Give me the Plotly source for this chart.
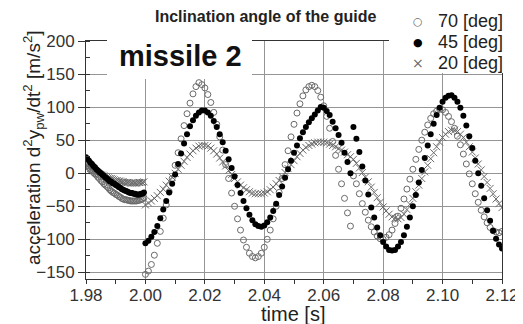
import numpy as np
import plotly.graph_objects as go

# time grids (s)
t_pre = np.round(1.98 + 0.0005 * np.arange(40), 4)      # 1.9800 ... 1.9995
t_post = np.round(2.0 + 0.001 * np.arange(121), 3)      # 2.000 ... 2.120

# 70 [deg] - open circles
a70_pre = [14, 11, 9, 6, 4, 1, -1, -3, -6, -8,
           -11, -13, -16, -18, -20, -22, -25, -27, -29, -30,
           -32, -33, -35, -36, -38, -39, -40, -40, -41, -41,
           -42, -42, -42, -42, -42, -41, -41, -40, -39, -37]
a70_post = [-153, -148, -138, -124, -106, -88, -68, -48, -28, -8,
            12, 31, 52, 72, 90, 106, 120, 131, 137, 134,
            129, 119, 107, 92, 74, 55, 35, 13, -8, -30,
            -50, -69, -86, -101, -112, -121, -126, -128, -126, -121,
            -112, -100, -86, -69, -50, -29, -8, 13, 34, 55,
            74, 91, 105, 117, 126, 131, 133, 131, 125, 115,
            102, 86, 68, 48, 27, 6, -16, -38, -60, -80,
            -4, -16, -31, -46, -59, -71, -81, -89, -95, -99,
            -100, -97, -93, -86, -76, -65, -53, -39, -24, -9,
            6, 21, 36, 50, 62, 73, 83, 90, 94, 97,
            96, 92, 86, 78, 68, 56, 43, 29, 14, -1,
            -16, -31, -44, -56, -66, -75, -82, -87, -89, -90,
            -88]

# 45 [deg] - filled dots
a45_pre = [24, 21, 19, 16, 14, 11, 9, 6, 4, 2,
           0, -2, -4, -6, -8, -10, -12, -13, -15, -16,
           -18, -19, -21, -22, -24, -25, -26, -27, -28, -29,
           -30, -30, -31, -31, -32, -32, -32, -31, -31, -29]
a45_post = [-106, -102, -96, -89, -80, -68, -55, -42, -29, -16,
            -2, 14, 30, 45, 59, 71, 80, 87, 92, 95,
            95, 92, 87, 79, 70, 59, 47, 34, 21, 8,
            -5, -18, -30, -42, -53, -63, -71, -77, -80, -81,
            -79, -74, -67, -57, -46, -33, -20, -7, 6, 19,
            31, 42, 53, 62, 70, 77, 83, 89, 95, 100,
            99, 94, 88, 78, 68, 58, 46, 31, 17, 0,
            70, 52, 32, 10, -11, -32, -52, -67, -82, -94,
            -104, -111, -116, -117, -116, -111, -104, -94, -81, -67,
            -50, -33, -14, 5, 23, 42, 59, 75, 88, 99,
            108, 114, 117, 118, 114, 108, 99, 87, 72, 56,
            38, 19, 0, -19, -38, -56, -72, -87, -99, -108,
            -114]

# 20 [deg] - crosses
a20_pre = [12, 10, 9, 7, 6, 4, 3, 1, 0, -1,
           -2, -3, -4, -5, -6, -7, -8, -8, -9, -10,
           -11, -11, -12, -12, -13, -13, -14, -14, -14, -14,
           -15, -15, -15, -15, -15, -14, -14, -14, -14, -13]
a20_post = [-48, -45, -42, -38, -34, -29, -24, -18, -12, -6,
            0, 6, 12, 18, 24, 29, 34, 38, 41, 42,
            42, 41, 38, 34, 29, 23, 17, 11, 4, -2,
            -8, -13, -18, -22, -25, -28, -30, -31, -31, -31,
            -30, -28, -25, -21, -16, -11, -5, 1, 7, 13,
            19, 25, 30, 35, 39, 42, 44, 46, 47, 47,
            47, 46, 44, 42, 40, 37, 35, 32, 28, 25,
            21, 15, 8, 1, -6, -13, -21, -29, -37, -44,
            -51, -57, -62, -66, -68, -69, -67, -62, -55, -47,
            -38, -28, -18, -8, 2, 12, 22, 31, 40, 47,
            54, 59, 63, 65, 65, 63, 59, 54, 47, 40,
            32, 23, 14, 5, -5, -14, -23, -31, -39, -46,
            -52]

labels = ["70 [deg]", "45 [deg]", "20 [deg]"]
legend_symbols = ["○", "●", "×"]
legend_colors = ["#6a6a6a", "#000000", "#6a6a6a"]
x_ticks = [1.98, 2.00, 2.02, 2.04, 2.06, 2.08, 2.10, 2.12]
x_ticktext = ["1.98", "2.00", "2.02", "2.04", "2.06", "2.08", "2.10", "2.12"]
y_ticks = [-150, -100, -50, 0, 50, 100, 150, 200]

t_all = list(t_pre) + list(t_post)
FONT = "Liberation Sans, Arial, sans-serif"

fig = go.Figure()
fig.add_trace(go.Scatter(x=t_all, y=a70_pre + a70_post, mode="markers", name=labels[0],
                         marker=dict(symbol="circle-open", size=6, color="#6a6a6a",
                                     line=dict(width=1, color="#6a6a6a"))))
fig.add_trace(go.Scatter(x=t_all, y=a20_pre + a20_post, mode="markers", name=labels[2],
                         marker=dict(symbol="x-thin-open", size=7, color="#6a6a6a",
                                     line=dict(width=1, color="#6a6a6a"))))
fig.add_trace(go.Scatter(x=t_all, y=a45_pre + a45_post, mode="markers", name=labels[1],
                         marker=dict(symbol="circle", size=6, color="#000000")))

# page is offset by the 8px body margin
W, H = 515, 316
L, R, T, B = 78, 21, 33, 45
PL, PT, PW, PH = 86, 41, 416, 238   # plot area in page pixels

def px(xp):
    return (xp - PL) / PW

def py(yp):
    return (PT + PH - yp) / PH

annotations = [
    dict(text="<b>Inclination angle of the guide</b>", xref="paper", yref="paper",
         x=px(265), y=py(17), xanchor="center", yanchor="middle", showarrow=False,
         font=dict(size=16, color="#222")),
    dict(text="<b>missile 2</b>", xref="paper", yref="paper",
         x=px(180), y=py(56), xanchor="center", yanchor="middle", showarrow=False,
         font=dict(size=29, color="#111")),
    dict(text="time [s]", xref="paper", yref="paper",
         x=px(293), y=py(314), xanchor="center", yanchor="middle", showarrow=False,
         font=dict(size=20, color="#222")),
    dict(text="acceleration d<sup>2</sup>y<sub>pw</sub>/dt<sup>2</sup> [m/s<sup>2</sup>]",
         xref="paper", yref="paper", textangle=-90,
         x=px(33), y=py(148), xanchor="center", yanchor="middle", showarrow=False,
         font=dict(size=19, color="#222")),
]
row_y = [21, 42, 63]
sym_size = [11, 11, 14]
for i in range(3):
    annotations.append(dict(text=legend_symbols[i], xref="paper", yref="paper",
                            x=px(418), y=py(row_y[i]), xanchor="center", yanchor="middle",
                            showarrow=False,
                            font=dict(family="DejaVu Sans", size=sym_size[i], color=legend_colors[i])))
    annotations.append(dict(text=labels[i], xref="paper", yref="paper",
                            x=px(436), y=py(row_y[i]), xanchor="left", yanchor="middle",
                            showarrow=False, font=dict(size=18, color="#222")))

fig.update_layout(
    width=W, height=H,
    margin=dict(l=L, r=R, t=T, b=B, autoexpand=False),
    paper_bgcolor="white", plot_bgcolor="white",
    font=dict(family=FONT, color="#222"),
    showlegend=False,
    xaxis=dict(range=[1.98, 2.12], tickvals=x_ticks, ticktext=x_ticktext,
               showgrid=True, gridcolor="#959595", gridwidth=1,
               showline=True, linecolor="#333", linewidth=1, mirror=True,
               ticks="outside", ticklen=4, tickcolor="#333", automargin=False,
               ticklabelstandoff=-3,
               minor=dict(dtick=0.01, ticks="outside", ticklen=4, tickcolor="#333", showgrid=False),
               tickfont=dict(size=17, color="#333"), zeroline=False),
    yaxis=dict(range=[-160, 200], tickvals=y_ticks,
               showgrid=True, gridcolor="#959595", gridwidth=1,
               showline=True, linecolor="#333", linewidth=1, mirror=True,
               ticks="outside", ticklen=7, tickcolor="#333", automargin=False,
               minor=dict(dtick=25, ticks="inside", ticklen=4, tickcolor="#333", showgrid=False),
               tickfont=dict(size=17, color="#333"), zeroline=False),
    shapes=[
        dict(type="rect", xref="paper", yref="paper", x0=px(107), x1=px(252),
             y0=py(79), y1=py(34), fillcolor="white", line=dict(width=0), layer="above"),
        dict(type="rect", xref="paper", yref="paper", x0=px(389), x1=px(530),
             y0=py(73), y1=py(-5), fillcolor="white", line=dict(width=0), layer="above"),
    ],
    annotations=annotations,
)

fig.write_html("out.html")
